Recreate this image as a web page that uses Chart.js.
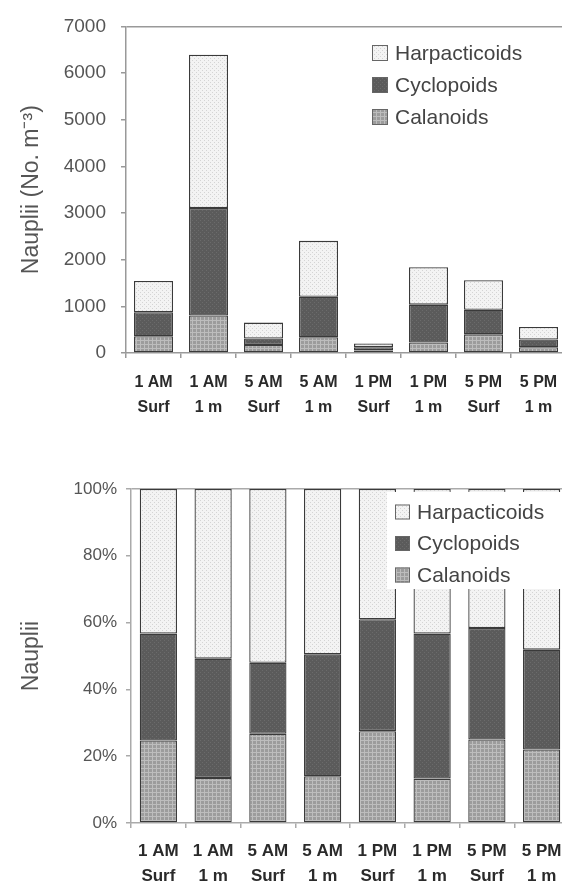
<!DOCTYPE html>
<html>
<head>
<meta charset="utf-8">
<script src="https://cdn.jsdelivr.net/npm/chart.js@4.4.1/dist/chart.umd.min.js"></script>
<style>
html, body { margin:0; padding:0; background:#fff; overflow:hidden; }
#wrap { position:relative; width:562px; height:885px; overflow:hidden; }
.box { position:absolute; left:0; width:575px; }
#topBox { top:0; height:430px; }
#botBox { top:440px; height:445px; }
</style>
</head>
<body>
<div id="wrap">
  <div class="box" id="topBox"><canvas id="countChart"></canvas></div>
  <div class="box" id="botBox"><canvas id="percentChart"></canvas></div>
</div>
<script>
// =======================================
// DATA
// =======================================

const sampleTimes  = ["1 AM","1 AM","5 AM","5 AM","1 PM","1 PM","5 PM","5 PM"];
const sampleDepths = ["Surf","1 m","Surf","1 m","Surf","1 m","Surf","1 m"];

// nauplii per m3
const countCalanoids     = [360, 803, 172, 338, 56, 226, 400, 122];
const countCyclopoids    = [513, 2305, 140, 867, 69, 810, 526, 167];
const countHarpacticoids = [670, 3283, 340, 1199, 80, 803, 634, 267];

// share of nauplii, %
const pctCalanoids     = [24.7, 13.5, 26.7, 14.0, 27.5, 13.3, 25.0, 22.0];
const pctCyclopoids    = [32.0, 35.7, 21.3, 36.5, 33.5, 43.4, 33.4, 29.9];
const pctHarpacticoids = [43.3, 50.8, 52.0, 49.5, 39.0, 43.3, 41.6, 48.1];

const countTicks = [0, 1000, 2000, 3000, 4000, 5000, 6000, 7000];
const pctTicks   = [0, 20, 40, 60, 80, 100];

const labels = sampleTimes.map((t, i) => [t, sampleDepths[i]]);

// =======================================
// FILL PATTERNS (scanned-print look)
// =======================================

function makePattern(base, dot, step, kind) {
    const c = document.createElement("canvas");
    c.width = step; c.height = step;
    const g = c.getContext("2d");
    g.fillStyle = base;
    g.fillRect(0, 0, step, step);
    g.fillStyle = dot;
    if (kind === "grid") {
        g.fillRect(0, 0, step, 1);
        g.fillRect(0, 0, 1, step);
    } else {
        g.fillRect(0, 0, 1, 1);
        g.fillRect(step / 2, step / 2, 1, 1);
    }
    return g.createPattern(c, "repeat");
}

const harpFill = makePattern("#f3f3f3", "#d4d4d4", 4, "dots");
const cycFill  = makePattern("#5b5b5b", "#6b6b6b", 4, "dots");
const calFill  = makePattern("#9c9c9c", "#bdbdbd", 4, "grid");

const FONT = "'Liberation Sans', Arial, sans-serif";

// legend drawn inside the plot, Excel style
const insideLegend = {
    id: "insideLegend",
    afterDatasetsDraw(chart, args, o) {
        const ctx = chart.ctx;
        ctx.save();
        if (o.backdrop) {
            ctx.fillStyle = "#fff";
            ctx.fillRect(o.backdrop[0], o.backdrop[1], o.backdrop[2], o.backdrop[3]);
        }
        const sets = chart.data.datasets.slice().reverse();
        sets.forEach((ds, i) => {
            const y = o.y + i * o.gap;
            ctx.fillStyle = ds.backgroundColor;
            ctx.fillRect(o.x, y - o.box / 2, o.box, o.box);
            ctx.strokeStyle = "#666";
            ctx.lineWidth = 1;
            ctx.strokeRect(o.x + 0.5, y - o.box / 2 + 0.5, o.box - 1, o.box - 1);
            ctx.fillStyle = "#444";
            ctx.font = o.size + "px " + FONT;
            ctx.textBaseline = "middle";
            ctx.textAlign = "left";
            ctx.fillText(ds.label, o.x + o.box + 7, y + 1);
        });
        ctx.restore();
    }
};

function makeDatasets(cal, cyc, harp) {
    const common = { borderColor: "#3a3a3a", borderWidth: 1.3, borderSkipped: false };
    return [
        Object.assign({ label: "Calanoids",     data: cal,  backgroundColor: calFill },  common),
        Object.assign({ label: "Cyclopoids",    data: cyc,  backgroundColor: cycFill },  common),
        Object.assign({ label: "Harpacticoids", data: harp, backgroundColor: harpFill }, common)
    ];
}

// =======================================
// NAUPLII COUNTS (STACKED BAR)
// =======================================

new Chart(document.getElementById("countChart"), {
    type: "bar",
    data: {
        labels: labels,
        datasets: makeDatasets(countCalanoids, countCyclopoids, countHarpacticoids)
    },
    plugins: [insideLegend],
    options: {
        responsive: true,
        maintainAspectRatio: false,
        animation: false,
        layout: { padding: { top: 22, right: 9, bottom: 0, left: 0 } },
        datasets: { bar: { categoryPercentage: 1, barPercentage: 0.71 } },
        plugins: {
            legend: { display: false },
            tooltip: { enabled: false },
            insideLegend: { x: 372, y: 53, gap: 32, box: 16, size: 21 }
        },
        scales: {
            x: {
                stacked: true,
                ticks: {
                    color: "#2a2a2a", padding: 12, maxRotation: 0, autoSkip: false,
                    font: { family: FONT, size: 16, weight: "bold", lineHeight: 1.56 }
                },
                grid: { drawOnChartArea: false, offset: true, tickLength: 5, color: "#999", lineWidth: 1.5 },
                border: { color: "#999", width: 1.5 },
                afterFit: s => { s.height = 77; }
            },
            y: {
                stacked: true,
                min: countTicks[0],
                max: countTicks[countTicks.length - 1],
                afterBuildTicks: s => { s.ticks = countTicks.map(v => ({ value: v })); },
                ticks: {
                    color: "#555", padding: 15, font: { family: FONT, size: 19 },
                    callback: v => String(v)
                },
                grid: {
                    color: c => (c.tick && c.tick.value === 7000) ? "#999" : "rgba(0,0,0,0)",
                    tickColor: "#999", tickLength: 5, lineWidth: 1.5
                },
                border: { color: "#999", width: 1.5 },
                title: {
                    display: true, text: "Nauplii (No. m⁻³)", color: "#555",
                    font: { family: FONT, size: 23 }, padding: { top: 18, bottom: 0 }
                },
                afterFit: s => { s.width = 126; }
            }
        }
    }
});

// =======================================
// NAUPLII SHARE (100% STACKED BAR)
// =======================================

new Chart(document.getElementById("percentChart"), {
    type: "bar",
    data: {
        labels: labels,
        datasets: makeDatasets(pctCalanoids, pctCyclopoids, pctHarpacticoids)
    },
    plugins: [insideLegend],
    options: {
        responsive: true,
        maintainAspectRatio: false,
        animation: false,
        layout: { padding: { top: 49, right: 6, bottom: 0, left: 0 } },
        datasets: { bar: { categoryPercentage: 1, barPercentage: 0.68 } },
        plugins: {
            legend: { display: false },
            tooltip: { enabled: false },
            insideLegend: { x: 395, y: 72, gap: 31.5, box: 15, size: 21, backdrop: [387, 52, 200, 97] }
        },
        scales: {
            x: {
                stacked: true,
                ticks: {
                    color: "#2a2a2a", padding: 11, maxRotation: 0, autoSkip: false,
                    font: { family: FONT, size: 17, weight: "bold", lineHeight: 1.47 }
                },
                grid: { drawOnChartArea: false, offset: true, tickLength: 5, color: "#aaa", lineWidth: 1.5 },
                border: { color: "#aaa", width: 1.5 },
                afterFit: s => { s.height = 62; }
            },
            y: {
                stacked: true,
                min: pctTicks[0],
                max: pctTicks[pctTicks.length - 1],
                afterBuildTicks: s => { s.ticks = pctTicks.map(v => ({ value: v })); },
                ticks: {
                    color: "#555", padding: 9, font: { family: FONT, size: 17 },
                    callback: v => v + "%"
                },
                grid: {
                    color: c => (c.tick && c.tick.value === 100) ? "#aaa" : "rgba(0,0,0,0)",
                    tickColor: "#aaa", tickLength: 5, lineWidth: 1.5
                },
                border: { color: "#aaa", width: 1.5 },
                title: {
                    display: true, text: "Nauplii", color: "#555",
                    font: { family: FONT, size: 23 }, padding: { top: 18, bottom: 0 }
                },
                afterFit: s => { s.width = 131; }
            }
        }
    }
});
</script>
</body>
</html>
